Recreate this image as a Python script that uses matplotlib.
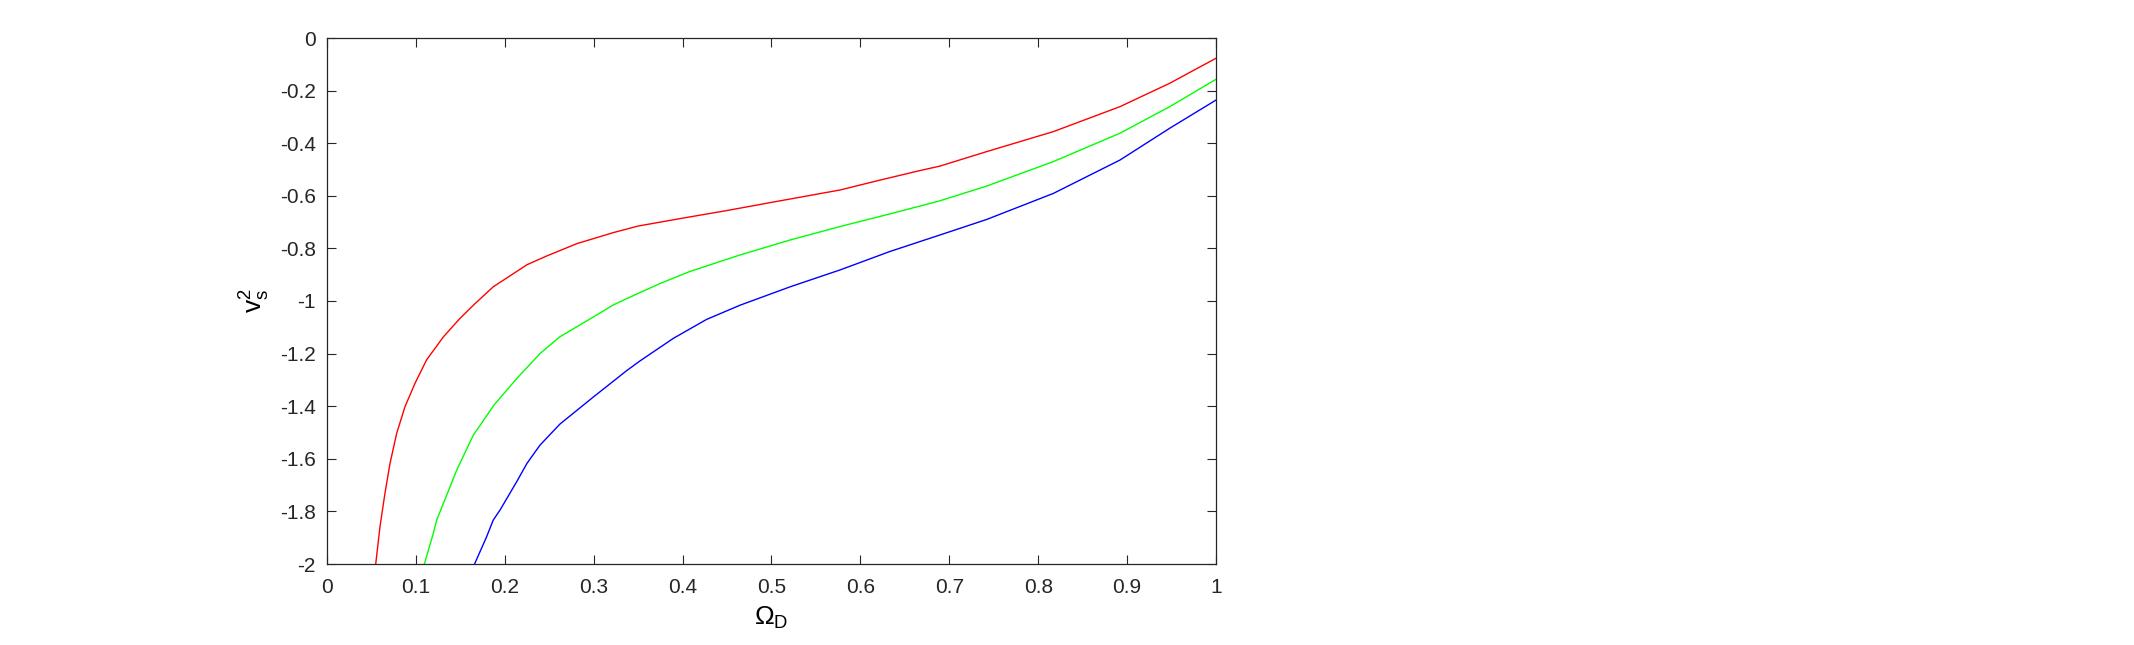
import matplotlib.pyplot as plt

plt.rcParams.update({
    "font.family": ["Liberation Sans", "DejaVu Sans"],
    "mathtext.default": "regular",
    "axes.edgecolor": "#262626",
    "xtick.color": "#262626",
    "ytick.color": "#262626",
})

# Omega_D vs v_s^2
red_x = [0.0548, 0.0596, 0.0652, 0.0709, 0.0784, 0.0877, 0.099, 0.112, 0.131, 0.1496,
         0.1665, 0.187, 0.225, 0.247, 0.281, 0.322, 0.35, 0.40, 0.45, 0.50, 0.577,
         0.62, 0.667, 0.6895, 0.742, 0.817, 0.892, 0.948, 1.0]
red_y = [-2.0, -1.858, -1.731, -1.617, -1.503, -1.402, -1.313, -1.224, -1.136, -1.066,
         -1.010, -0.946, -0.862, -0.829, -0.782, -0.740, -0.715, -0.685, -0.656, -0.625,
         -0.578, -0.542, -0.504, -0.487, -0.432, -0.356, -0.261, -0.172, -0.077]

green_x = [0.1095, 0.1196, 0.1234, 0.131, 0.1459, 0.1646, 0.188, 0.2134, 0.2396,
           0.262, 0.300, 0.322, 0.352, 0.375, 0.408, 0.4646, 0.521, 0.577, 0.633,
           0.667, 0.6895, 0.742, 0.817, 0.892, 0.948, 1.0]
green_y = [-2.0, -1.883, -1.833, -1.769, -1.643, -1.510, -1.395, -1.295, -1.200,
           -1.136, -1.060, -1.015, -0.968, -0.933, -0.888, -0.825, -0.768, -0.717, -0.669,
           -0.639, -0.619, -0.563, -0.470, -0.362, -0.261, -0.157]

blue_x = [0.166, 0.1796, 0.187, 0.1946, 0.2134, 0.225, 0.2396, 0.262, 0.300, 0.337,
          0.352, 0.3896, 0.427, 0.4646, 0.521, 0.577, 0.633, 0.667, 0.6895, 0.742,
          0.817, 0.892, 0.948, 1.0]
blue_y = [-2.0, -1.896, -1.833, -1.795, -1.687, -1.617, -1.548, -1.468, -1.364, -1.265,
          -1.228, -1.142, -1.070, -1.016, -0.946, -0.882, -0.812, -0.774, -0.749, -0.690,
          -0.591, -0.464, -0.343, -0.236]

x_ticks = [0, 0.1, 0.2, 0.3, 0.4, 0.5, 0.6, 0.7, 0.8, 0.9, 1]
y_ticks = [-2, -1.8, -1.6, -1.4, -1.2, -1, -0.8, -0.6, -0.4, -0.2, 0]

fig = plt.figure(figsize=(21.34, 6.45), dpi=100)
ax = fig.add_axes([327 / 2134, 81 / 645, 889 / 2134, 526 / 645])

ax.plot(red_x, red_y, color="#ff0000", lw=1.0)
ax.plot(green_x, green_y, color="#00ff00", lw=1.0)
ax.plot(blue_x, blue_y, color="#0000ff", lw=1.0)

ax.set_xlim(0, 1)
ax.set_ylim(-2, 0)
ax.set_xticks(x_ticks)
ax.set_xticklabels([f"{t:g}" for t in x_ticks])
ax.set_yticks(y_ticks)
ax.set_yticklabels([f"{t:g}" for t in y_ticks])
ax.tick_params(direction="in", top=True, right=True, length=6.3, width=0.8,
               labelsize=15)
ax.tick_params(axis="x", pad=10)
ax.tick_params(axis="y", pad=8)
for s in ax.spines.values():
    s.set_linewidth(0.9)

ax.set_xlabel(r"$\Omega_D$", fontsize=19, labelpad=6)
ax.set_ylabel(r"$v_s^2$", fontsize=19, labelpad=6)

fig.savefig("out.png", dpi=100)
